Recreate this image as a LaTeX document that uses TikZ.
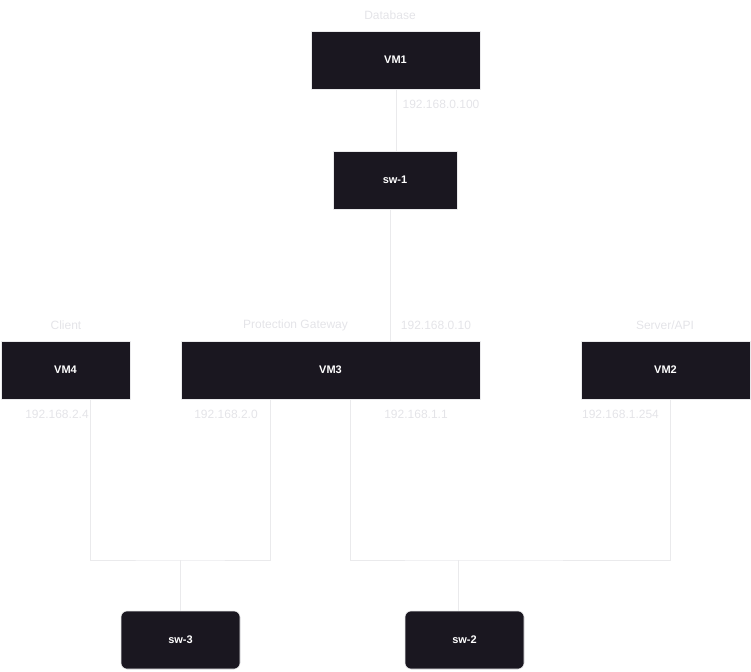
\documentclass[tikz,border=0pt]{standalone}
\usepackage{fontspec}
\setmainfont{Liberation Sans}
\definecolor{boxfill}{HTML}{1A1720}
\definecolor{linecol}{HTML}{EAEAEC}
\definecolor{labcol}{HTML}{E4E4E8}
\begin{document}
\begin{tikzpicture}[x=1pt,y=-1pt,
  vmbox/.style={draw=linecol,line width=0.6pt,fill=boxfill,text=white,minimum height=58pt,inner sep=0pt,font=\fontsize{11}{13}\selectfont\bfseries},
  swbox/.style={vmbox,rounded corners=6pt},
  lab/.style={text=labcol,inner sep=0pt,font=\fontsize{12}{14}\selectfont},
  conn/.style={draw=linecol,line width=1pt}]
\useasboundingbox (0,0) rectangle (751,671);
\node[vmbox,minimum width=169pt] (VM1) at (395.5,60) {VM1};
\node[vmbox,minimum width=124pt] (sw1) at (395,180) {sw-1};
\node[vmbox,minimum width=129pt] (VM4) at (65.5,370) {VM4};
\node[vmbox,minimum width=299pt] (VM3) at (330.5,370) {VM3};
\node[vmbox,minimum width=169pt] (VM2) at (665.5,370) {VM2};
\node[swbox,minimum width=119pt] (sw3) at (180.5,640) {sw-3};
\node[swbox,minimum width=119pt] (sw2) at (464.5,640) {sw-2};
\coordinate (j1) at (180,560);
\coordinate (j2) at (458,560);
% labels
\node[lab] (lDB) at (390,15) {Database};
\node[lab] (l100) at (441,104) {192.168.0.100};
\node[lab] (lCl) at (66,325) {Client};
\node[lab] (lPG) at (295.5,325) {Protection Gateway};
\node[lab] (l10) at (436,325) {192.168.0.10};
\node[lab] (lSA) at (665,325) {Server/API};
\node[lab] (l24) at (57,414) {192.168.2.4};
\node[lab] (l20) at (226,414) {192.168.2.0};
\node[lab] (l11) at (416,414) {192.168.1.1};
\node[lab] (l254) at (620.5,414) {192.168.1.254};
% connectors
\draw[conn] ([xshift=0.5pt]VM1.south) -- ([xshift=1pt]sw1.north);
\draw[conn] ([xshift=-5pt]sw1.south) -- ([xshift=-5pt]sw1.south |- VM3.north);
\draw[conn] ([xshift=24.5pt]VM4.south) |- (j1) -| ([xshift=-60.5pt]VM3.south);
\draw[conn] (j1) -- (j1 |- sw3.north);
\draw[conn] ([xshift=19.5pt]VM3.south) |- (j2) -| ([xshift=4.5pt]VM2.south);
\draw[conn] (j2) -- (j2 |- sw2.north);
\end{tikzpicture}
\end{document}
